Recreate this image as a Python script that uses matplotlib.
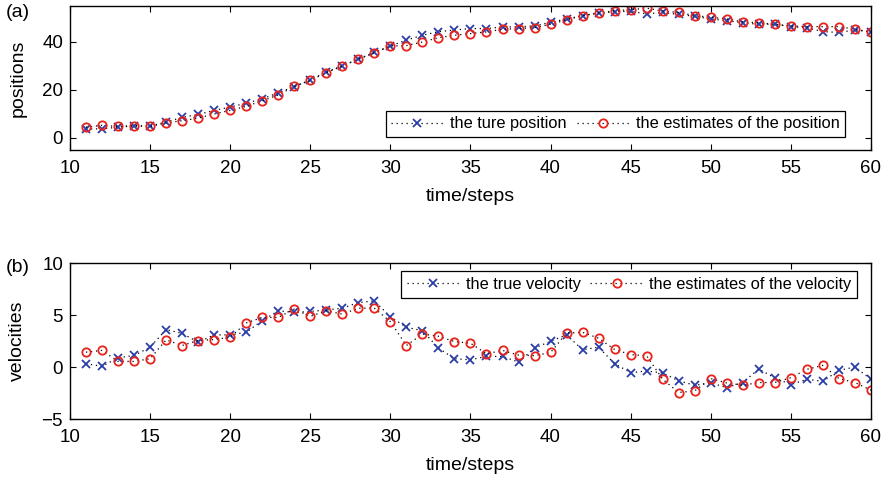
import numpy as np
import matplotlib
matplotlib.use("Agg")
import matplotlib.pyplot as plt

plt.rcParams['font.family'] = ['Liberation Sans', 'DejaVu Sans']

# pasos de tiempo
t = np.arange(11, 61)

# posiciones: verdadera y estimada
pos_true = [3.8, 3.8, 4.5, 5.0, 5.0, 6.6, 8.6, 9.8, 11.5, 12.9,
            14.5, 16.3, 18.8, 21.4, 24.2, 27.5, 30.1, 32.9, 35.7, 38.3,
            40.8, 42.8, 44.3, 45.0, 45.6, 45.6, 46.3, 46.3, 46.7, 48.2,
            49.6, 51.0, 52.0, 52.6, 52.8, 51.7, 52.3, 51.5, 50.7, 49.6,
            48.9, 48.0, 47.4, 47.4, 46.4, 46.0, 44.3, 44.0, 45.0, 44.2]
pos_est = [4.5, 5.3, 4.8, 5.2, 4.8, 6.3, 7.2, 8.3, 10.0, 11.5,
           13.2, 15.5, 17.9, 21.5, 24.0, 27.2, 30.0, 32.8, 35.5, 38.3,
           38.5, 40.0, 41.8, 42.8, 43.5, 44.2, 45.3, 45.6, 46.0, 47.4,
           49.2, 51.0, 52.1, 53.0, 53.5, 54.1, 52.9, 52.3, 51.0, 50.3,
           49.6, 48.4, 48.0, 47.4, 46.7, 46.4, 46.4, 46.4, 45.3, 44.2]

# velocidades: verdadera y estimada
vel_true = [0.32, 0.07, 0.89, 1.11, 1.91, 3.60, 3.24, 2.39, 3.09, 3.09,
            3.34, 4.46, 5.41, 5.25, 5.35, 5.48, 5.66, 6.20, 6.36, 4.84,
            3.82, 3.50, 1.82, 0.80, 0.70, 1.02, 1.02, 0.48, 1.82, 2.48,
            3.09, 1.66, 1.91, 0.32, -0.54, -0.38, -0.57, -1.33, -1.75, -1.53,
            -1.97, -1.49, -0.19, -1.05, -1.68, -1.18, -1.37, -0.32, 0.00, -1.18]
vel_est = [1.43, 1.60, 0.54, 0.54, 0.80, 2.61, 2.07, 2.55, 2.64, 2.86,
           4.24, 4.77, 4.77, 5.57, 4.87, 5.41, 5.09, 5.66, 5.66, 4.36,
           2.07, 3.18, 2.96, 2.45, 2.29, 1.27, 1.60, 1.15, 1.09, 1.40,
           3.27, 3.34, 2.77, 1.69, 1.20, 1.08, -1.18, -2.45, -2.29, -1.11,
           -1.53, -1.75, -1.49, -1.49, -1.02, -0.22, 0.16, -1.11, -1.49, -2.22]

azul = '#2b3ea8'
rojo = '#e8231c'

fig = plt.figure(figsize=(8.88, 4.8), dpi=100)
ax1 = fig.add_axes([0.0788, 0.6875, 0.902, 0.30])
ax2 = fig.add_axes([0.0788, 0.127, 0.902, 0.325])


def serie(ax, y, marker, color, label):
    ax.plot(t, y, linestyle=(0, (1, 3)), color='black', linewidth=0.9,
            marker=marker, markersize=6, markeredgewidth=1.3,
            markeredgecolor=color, markerfacecolor='none', label=label)


serie(ax1, pos_true, 'x', azul, 'the ture position')
serie(ax1, pos_est, 'o', rojo, 'the estimates of the position')
serie(ax2, vel_true, 'x', azul, 'the true velocity')
serie(ax2, vel_est, 'o', rojo, 'the estimates of the velocity')

ax1.set_ylim(-5, 55)
ax1.set_yticks([0, 20, 40])
ax1.set_ylabel('positions', fontsize=14, labelpad=11)
ax2.set_ylim(-5, 10)
ax2.set_yticks([-5, 0, 5, 10])
ax2.set_ylabel('velocities', fontsize=14, labelpad=11)

for ax in (ax1, ax2):
    ax.set_xlim(10, 60)
    ax.set_xticks(np.arange(10, 61, 5))
    ax.set_xlabel('time/steps', fontsize=14, labelpad=8)
    ax.tick_params(direction='in', top=True, right=True, length=4,
                   width=0.8, labelsize=13.5)
    ax.tick_params(axis='x', pad=7)
    ax.tick_params(axis='y', pad=5)
    for s in ax.spines.values():
        s.set_linewidth(1.0)

leg_kw = dict(fontsize=11.8, frameon=True, fancybox=False, framealpha=1,
              edgecolor='black', ncol=2, handlelength=3.2, handletextpad=0.4,
              columnspacing=0.6, borderpad=0.35, borderaxespad=0)
leg1 = ax1.legend(loc='lower right', bbox_to_anchor=(0.968, 0.09), **leg_kw)
leg2 = ax2.legend(loc='upper right', bbox_to_anchor=(0.983, 0.947), **leg_kw)
for leg in (leg1, leg2):
    leg.get_frame().set_linewidth(0.9)

fig.text(0.006, 0.974, '(a)', fontsize=14, va='center', ha='left')
fig.text(0.006, 0.443, '(b)', fontsize=14, va='center', ha='left')

fig.savefig('out.png', dpi=100)
